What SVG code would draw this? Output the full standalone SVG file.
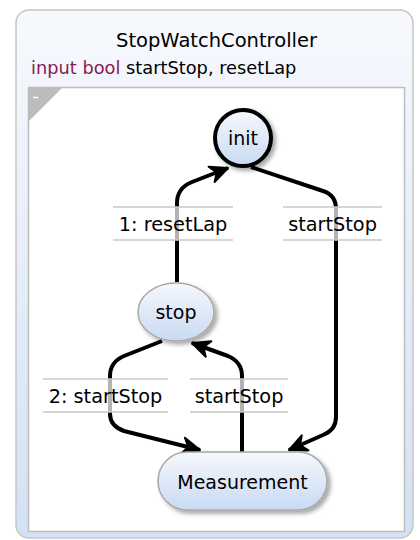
<svg xmlns="http://www.w3.org/2000/svg" width="420" height="540" viewBox="0 0 420 540">
<defs>
<linearGradient id="bg" x1="0" y1="0" x2="0" y2="1">
<stop offset="0" stop-color="#f7f9fd"/>
<stop offset="1" stop-color="#d3e1f5"/>
</linearGradient>
<linearGradient id="nodeg" x1="0" y1="0" x2="0" y2="1">
<stop offset="0" stop-color="#f6f8fc"/>
<stop offset="1" stop-color="#c9daf3"/>
</linearGradient>
<filter id="sh" x="-30%" y="-30%" width="160%" height="160%">
<feDropShadow dx="3" dy="3" stdDeviation="2" flood-color="#000" flood-opacity="0.35"/>
</filter>
<marker id="arr" markerUnits="userSpaceOnUse" markerWidth="22" markerHeight="22" viewBox="-18 -9 20 18" refX="0" refY="0" orient="auto">
<path d="M-16,-7.5 L0,0 L-16,7.5 L-11,0 z" fill="#000" stroke="#000" stroke-width="1.8" stroke-linejoin="round"/>
</marker>
</defs>
<style>
text{font-family:"DejaVu Sans","Liberation Sans",sans-serif;fill:#000}
.edge{fill:none;stroke:#000;stroke-width:4;stroke-linejoin:round;marker-end:url(#arr)}
.lblbg{fill:#fff;fill-opacity:0.7}
.lblln{stroke:#c8c8c8;stroke-width:1.5}
.lbl{font-size:19.3px;text-anchor:middle}
.node{fill:url(#nodeg);stroke:#a8a8a8;stroke-width:1.5;filter:url(#sh)}
.ntext{font-size:19px;text-anchor:middle}
</style>
<rect x="16" y="10" width="397" height="528" rx="13" fill="url(#bg)" stroke="#c6c6c6" stroke-width="1.5"/>
<text x="216.5" y="47" font-size="19.5" text-anchor="middle">StopWatchController</text>
<text x="31" y="74" font-size="17.8"><tspan style="fill:#8b1a4f">input bool</tspan> startStop, resetLap</text>
<rect x="28.5" y="87.5" width="376" height="444" fill="#fff" stroke="#bdbdbd" stroke-width="1.5"/>
<path d="M29,88 L62,88 L29,121 z" fill="#bcbcbc"/>
<line x1="33" y1="97.5" x2="38" y2="97.5" stroke="#fff" stroke-width="1.5"/>
<g id="connectors">
<path class="edge" d="M177,282 L177,203 Q177,188 192,182 L228,168"/>
<path class="edge" d="M251,167 L323,191 Q336,195 336,209 L336,417 Q336,430 323,435 L289,450"/>
<path class="edge" d="M162,341 L124,356 Q110,362 110,376 L110,414 Q110,426 124,431 L200,450"/>
<path class="edge" d="M242,452 L242,376 Q242,362 228,356 L192,343"/>
</g>
<g id="labels">
<g id="lbl-resetLap">
<rect class="lblbg" x="113" y="207" width="120" height="33"/>
<line class="lblln" x1="113" y1="207" x2="233" y2="207"/>
<line class="lblln" x1="113" y1="240" x2="233" y2="240"/>
<text class="lbl" x="173" y="231">1: resetLap</text>
</g>
<g id="lbl-startStop-right">
<rect class="lblbg" x="283" y="207" width="99" height="33"/>
<line class="lblln" x1="283" y1="207" x2="382" y2="207"/>
<line class="lblln" x1="283" y1="240" x2="382" y2="240"/>
<text class="lbl" x="332.5" y="231">startStop</text>
</g>
<g id="lbl-startStop-2">
<rect class="lblbg" x="43" y="379" width="125" height="33"/>
<line class="lblln" x1="43" y1="379" x2="168" y2="379"/>
<line class="lblln" x1="43" y1="412" x2="168" y2="412"/>
<text class="lbl" x="105.5" y="403">2: startStop</text>
</g>
<g id="lbl-startStop-mid">
<rect class="lblbg" x="190" y="379" width="98" height="33"/>
<line class="lblln" x1="190" y1="379" x2="288" y2="379"/>
<line class="lblln" x1="190" y1="412" x2="288" y2="412"/>
<text class="lbl" x="239" y="403">startStop</text>
</g>
</g>
<g id="init">
<circle cx="243" cy="138" r="28" fill="url(#nodeg)" stroke="#000" stroke-width="4" filter="url(#sh)"/>
<text class="ntext" x="243" y="145">init</text>
</g>
<g id="stop">
<ellipse class="node" cx="176" cy="312" rx="38" ry="29"/>
<text class="ntext" x="176" y="319">stop</text>
</g>
<g id="Measurement">
<rect class="node" x="158" y="452" width="169" height="58" rx="29"/>
<text class="ntext" x="242.5" y="489">Measurement</text>
</g>
</svg>
